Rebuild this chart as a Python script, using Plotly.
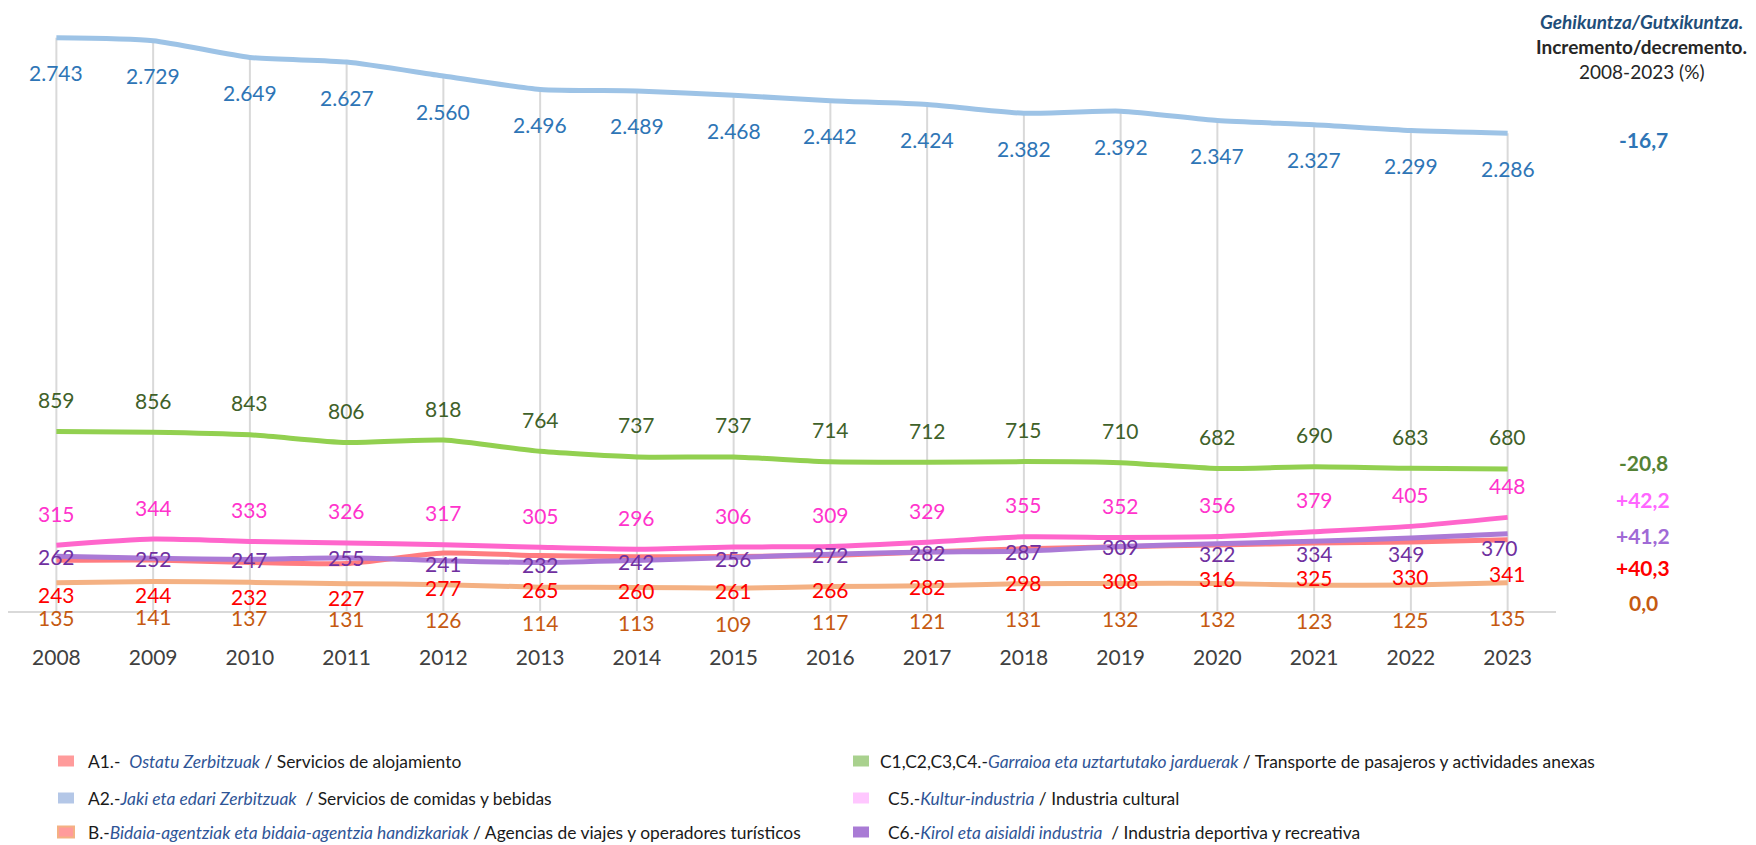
import plotly.graph_objects as go

# ---------------- data ----------------
years = [2008, 2009, 2010, 2011, 2012, 2013, 2014, 2015,
         2016, 2017, 2018, 2019, 2020, 2021, 2022, 2023]

a1_alojamiento = [243, 244, 232, 227, 277, 265, 260, 261, 266, 282, 298, 308, 316, 325, 330, 341]
a2_comidas = [2743, 2729, 2649, 2627, 2560, 2496, 2489, 2468, 2442, 2424, 2382, 2392, 2347, 2327, 2299, 2286]
b_agencias = [135, 141, 137, 131, 126, 114, 113, 109, 117, 121, 131, 132, 132, 123, 125, 135]
c1c4_transporte = [859, 856, 843, 806, 818, 764, 737, 737, 714, 712, 715, 710, 682, 690, 683, 680]
c5_cultural = [315, 344, 333, 326, 317, 305, 296, 306, 309, 329, 355, 352, 356, 379, 405, 448]
c6_deportiva = [262, 252, 247, 255, 241, 232, 242, 256, 272, 282, 287, 309, 322, 334, 349, 370]

BL = "<i><span style='color:#2F5597'>{}</span></i>"
legend_names = [
    "A1.-&nbsp; " + BL.format("Ostatu Zerbitzuak") + " / Servicios de alojamiento",
    "A2.-" + BL.format("Jaki eta edari Zerbitzuak") + "&nbsp; / Servicios de comidas y bebidas",
    "B.-" + BL.format("Bidaia-agentziak eta bidaia-agentzia handizkariak") + " / Agencias de viajes y operadores turísticos",
    "C1,C2,C3,C4.-" + BL.format("Garraioa eta uztartutako jarduerak") + " / Transporte de pasajeros y actividades anexas",
    "C5.-" + BL.format("Kultur-industria") + " / Industria cultural",
    "C6.-" + BL.format("Kirol eta aisialdi industria") + "&nbsp; / Industria deportiva y recreativa",
]

FONT = "Lato, 'Open Sans', sans-serif"

# series: values, line colour, label colour, legend swatch, change colour, label yshift
series = [
    dict(v=a1_alojamiento, line="#FF7C80", lab="#FF0000", sw="#FF9B9B", ch="#FF0000", dy=-34),
    dict(v=a2_comidas, line="#9DC3E6", lab="#2E75B6", sw="#B4C7E7", ch="#2E75B6", dy=-35),
    dict(v=b_agencias, line="#F4B183", lab="#C55A11", sw="#FF9B9B", ch="#C55A11", dy=-35),
    dict(v=c1c4_transporte, line="#92D050", lab="#3F6129", sw="#A9D18E", ch="#548235", dy=32),
    dict(v=c5_cultural, line="#FF66CC", lab="#FF33CC", sw="#FFC7FF", ch="#FF66FF", dy=32),
    dict(v=c6_deportiva, line="#AB7AD6", lab="#7030A0", sw="#A97BD5", ch="#A06AD6", dy=0),
]
# per-label fine shifts for the C6 series (label placement only)
c6_dy = [0, 0, 0, 0, -3, -2, -1, -1, 0, 0, 0, 0, -10, -12, -15, -14]
c6_dx = [0] * 14 + [-4, -8]

# layout geometry (pixels)
W, H = 1756, 845
ML, MR, MT, MB = 8, 200, 5, 234
PX0, PX1 = ML, W - MR
PY0, PY1 = MT, H - MB


def px_x(p):
    return (p - PX0) / (PX1 - PX0)


def px_y(p):
    return (PY1 - p) / (PY1 - PY0)


fig = go.Figure()

# drop lines from highest series to the axis
dx, dyv = [], []
for yr, v in zip(years, a2_comidas):
    dx += [yr, yr, None]
    dyv += [0, v, None]
fig.add_trace(go.Scatter(x=dx, y=dyv, mode="lines", line=dict(color="#D9D9D9", width=2),
                         hoverinfo="skip", showlegend=False))

# draw order: orange, red, blue, green, pink, purple
for idx in [2, 0, 1, 3, 4, 5]:
    s = series[idx]
    fig.add_trace(go.Scatter(x=years, y=s["v"], mode="lines",
                             line=dict(color=s["line"], width=5, shape="spline", smoothing=0.6),
                             showlegend=False, hoverinfo="x+y"))

annotations = []
shapes = []
# data labels
for i, s in enumerate(series):
    for k, (yr, v) in enumerate(zip(years, s["v"])):
        txt = f"{v:,}".replace(",", ".")
        ysh = s["dy"] + (c6_dy[k] if i == 5 else 0)
        xsh = c6_dx[k] if i == 5 else 0
        annotations.append(dict(x=yr, y=v, xref="x", yref="y", text=txt, showarrow=False,
                                yshift=ysh, xshift=xsh,
                                font=dict(family=FONT, size=21, color=s["lab"])))

# change 2008-2023 (%)
change_y = {1: 140, 3: 463, 4: 499, 5: 535, 0: 567, 2: 602}  # pixel rows
for i, s in enumerate(series):
    ch = (s["v"][-1] - s["v"][0]) / s["v"][0] * 100
    txt = f"{ch:+.1f}".replace(".", ",")
    if abs(ch) < 0.05:
        txt = "0,0"
    annotations.append(dict(x=px_x(1643), y=px_y(change_y[i]), xref="paper", yref="paper",
                            text=f"<b>{txt}</b>", showarrow=False, xanchor="center", yanchor="middle",
                            font=dict(family=FONT, size=21, color=s["ch"])))

# header
for txt, ypx, col in [("<b><i>Gehikuntza/Gutxikuntza.</i></b>", 22, "#1F4E79"),
                      ("<b>Incremento/decremento.</b>", 47, "#262626"),
                      ("2008-2023 (%)", 72, "#262626")]:
    annotations.append(dict(x=px_x(1641), y=px_y(ypx), xref="paper", yref="paper", text=txt,
                            showarrow=False, xanchor="center", yanchor="middle",
                            font=dict(family=FONT, size=19, color=col)))

# legend (drawn manually: two columns x three rows)
leg_rows = [761, 798, 832]
leg_cols = [(58, 86), (853, 878)]
for i, s in enumerate(series):
    col, row = divmod(i, 3)
    sx, tx = leg_cols[col]
    if col == 1 and row > 0:
        tx += 8
    cy = leg_rows[row]
    shapes.append(dict(type="rect", xref="paper", yref="paper",
                       x0=px_x(sx), x1=px_x(sx + 16), y0=px_y(cy + 5.5), y1=px_y(cy - 5.5),
                       fillcolor=s["sw"],
                       line=dict(color="#F4B183" if i == 2 else s["sw"], width=2 if i == 2 else 0)))
    annotations.append(dict(x=px_x(tx), y=px_y(cy), xref="paper", yref="paper",
                            text=legend_names[i], showarrow=False, xanchor="left", yanchor="middle",
                            font=dict(family=FONT, size=17.4, color="#1a1a1a")))

fig.update_layout(
    width=W, height=H,
    margin=dict(l=ML, r=MR, t=MT, b=MB),
    paper_bgcolor="white", plot_bgcolor="white",
    font=dict(family=FONT, color="#262626"),
    xaxis=dict(range=[2007.5, 2023.5], tickmode="array", tickvals=years,
               showgrid=False, zeroline=False, showline=True, linecolor="#D9D9D9", linewidth=1.5,
               ticks="outside", ticklen=27, tickcolor="rgba(0,0,0,0)",
               tickfont=dict(family=FONT, size=21, color="#404040")),
    yaxis=dict(range=[0, 2900], visible=False),
    annotations=annotations,
    shapes=shapes,
    showlegend=False,
)

fig.write_html("out.html", config={"displayModeBar": False},
               post_script="document.body.style.margin='0';")
